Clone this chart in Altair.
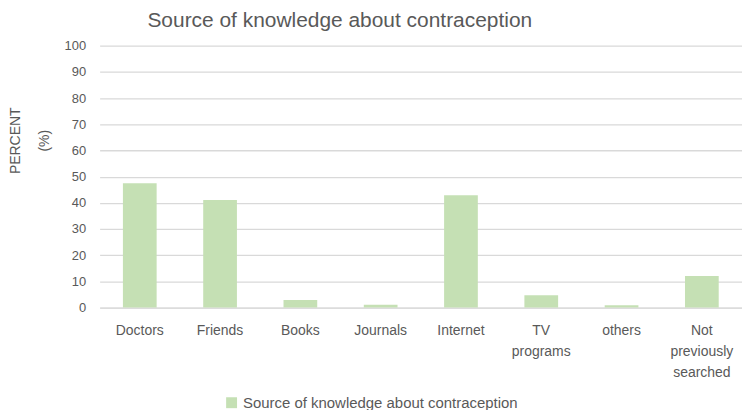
import altair as alt
import pandas as pd

categories = ["Doctors", "Friends", "Books", "Journals", "Internet",
              "TV programs", "others", "Not previously searched"]
values = [47.5, 41.1, 2.9, 1.1, 42.9, 4.7, 0.9, 12.1]
series_name = "Source of knowledge about contraception"

df = pd.DataFrame({"category": categories, "percent": values,
                   "series": [series_name] * len(categories)})

FONT = "Liberation Sans, Arial, sans-serif"
GREY = "#595959"

chart = alt.Chart(df).mark_bar(color="#c5e0b4").encode(
    x=alt.X("category:N", sort=categories, title=None,
            scale=alt.Scale(paddingInner=0.58, paddingOuter=0.29),
            axis=alt.Axis(labelAngle=0, labelExpr="split(datum.label, ' ')",
                          labelLineHeight=21, labelFontSize=14, labelColor=GREY,
                          labelFont=FONT, labelPadding=16, ticks=False,
                          domainColor="#d9d9d9", grid=False)),
    y=alt.Y("percent:Q", title=["PERCENT", "(%)"],
            scale=alt.Scale(domain=[0, 100], nice=False),
            axis=alt.Axis(values=list(range(0, 101, 10)), ticks=False, domain=False,
                          gridColor="#d9d9d9", gridWidth=1.3, labelFontSize=13,
                          labelColor=GREY, labelFont=FONT, labelPadding=14,
                          titleFont=FONT, titleFontSize=14, titleFontWeight="normal",
                          titleColor=GREY, titleLineHeight=29, titleAngle=-90,
                          titleX=-91, titleY=95, titleAlign="center",
                          titleBaseline="top")),
    color=alt.Color("series:N", title=None,
                    scale=alt.Scale(range=["#c5e0b4"]),
                    legend=alt.Legend(orient="none", legendX=125, legendY=351,
                                      symbolType="square", symbolSize=120,
                                      symbolStrokeWidth=0, labelLimit=500,
                                      labelFontSize=15, labelColor=GREY,
                                      labelFont=FONT)),
).properties(
    width=645, height=263,
    title=alt.TitleParams(series_name, anchor="start", dx=139, dy=-5,
                          fontSize=21, font=FONT, fontWeight="normal", color=GREY),
    autosize=alt.AutoSizeParams(type="none"),
    padding={"left": 92, "top": 37, "right": 0, "bottom": 102},
).configure_view(stroke=None)

chart.save("out.html", embed_options={"renderer": "svg", "actions": False})
